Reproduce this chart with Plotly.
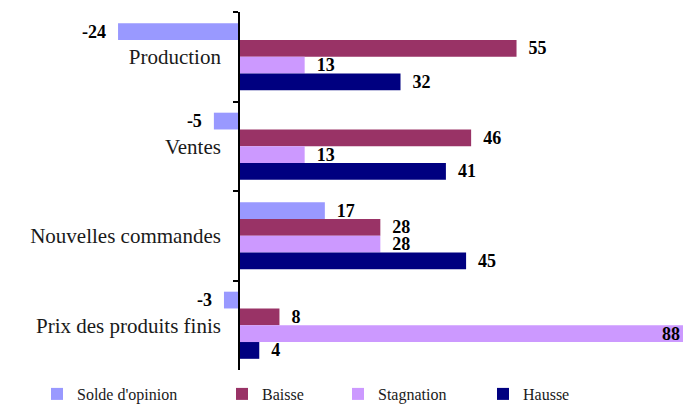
import plotly.graph_objects as go

categories = ["Production", "Ventes", "Nouvelles commandes", "Prix des produits finis"]
solde = [-24, -5, 17, -3]
baisse = [55, 46, 28, 8]
stagnation = [13, 13, 28, 88]
hausse = [32, 41, 45, 4]

noms = ["Solde d'opinion", "Baisse", "Stagnation", "Hausse"]
couleurs = ["#9999FF", "#993366", "#CC99FF", "#000080"]
valeurs = [solde, baisse, stagnation, hausse]

# position du texte de la légende (px) pour chaque série
leg_px = [77, 262, 378, 523]

W, H = 684, 405
x_min, x_max = -47.4, 88.2
nb = "\u00a0\u00a0"

def etiquette(v):
    if v >= 80:
        return str(v), "inside"
    if v < 0:
        return str(v) + nb, "outside"
    return nb + str(v), "outside"

fig = go.Figure()
for i, (nom, vals, col) in enumerate(zip(noms, valeurs, couleurs)):
    lab = [etiquette(v) for v in vals]
    fig.add_trace(go.Bar(
        y=categories, x=vals, orientation="h", name=nom,
        marker_color=col, marker_line_width=0,
        text=[t for t, p in lab], textposition=[p for t, p in lab],
        insidetextanchor="end", constraintext="none", cliponaxis=False, textangle=0,
        textfont=dict(family="Liberation Serif", size=18, color="black", weight="bold"),
        legend="legend" if i == 0 else f"legend{i+1}",
    ))

legendes = {}
for i, px_txt in enumerate(leg_px):
    key = "legend" if i == 0 else f"legend{i+1}"
    legendes[key] = dict(
        x=(px_txt - 40) / W, y=1 - 394 / H, xref="container", yref="container",
        xanchor="left", yanchor="middle",
        orientation="h", bgcolor="rgba(0,0,0,0)",
        font=dict(family="Liberation Serif", size=16, color="#1a1a1a"),
    )

fig.update_layout(
    width=W, height=H,
    margin=dict(l=0, r=0, t=12, b=35),
    plot_bgcolor="white", paper_bgcolor="white",
    showlegend=True,
    barmode="group", bargap=0.25, bargroupgap=0,
    xaxis=dict(range=[x_min, x_max], showticklabels=False, showgrid=False,
               zeroline=False, showline=False),
    yaxis=dict(autorange="reversed", anchor="free", position=-x_min / (x_max - x_min),
               showline=True, linecolor="black", linewidth=2,
               ticks="outside", tickson="boundaries", ticklen=5, tickcolor="black", tickwidth=1.5,
               showgrid=False, ticklabelstandoff=13,
               tickfont=dict(family="Liberation Serif", size=21, color="#1a1a1a")),
    **legendes,
)

fig.write_html("out.html", config={"displayModeBar": False},
               post_script="document.body.style.margin='0';")
